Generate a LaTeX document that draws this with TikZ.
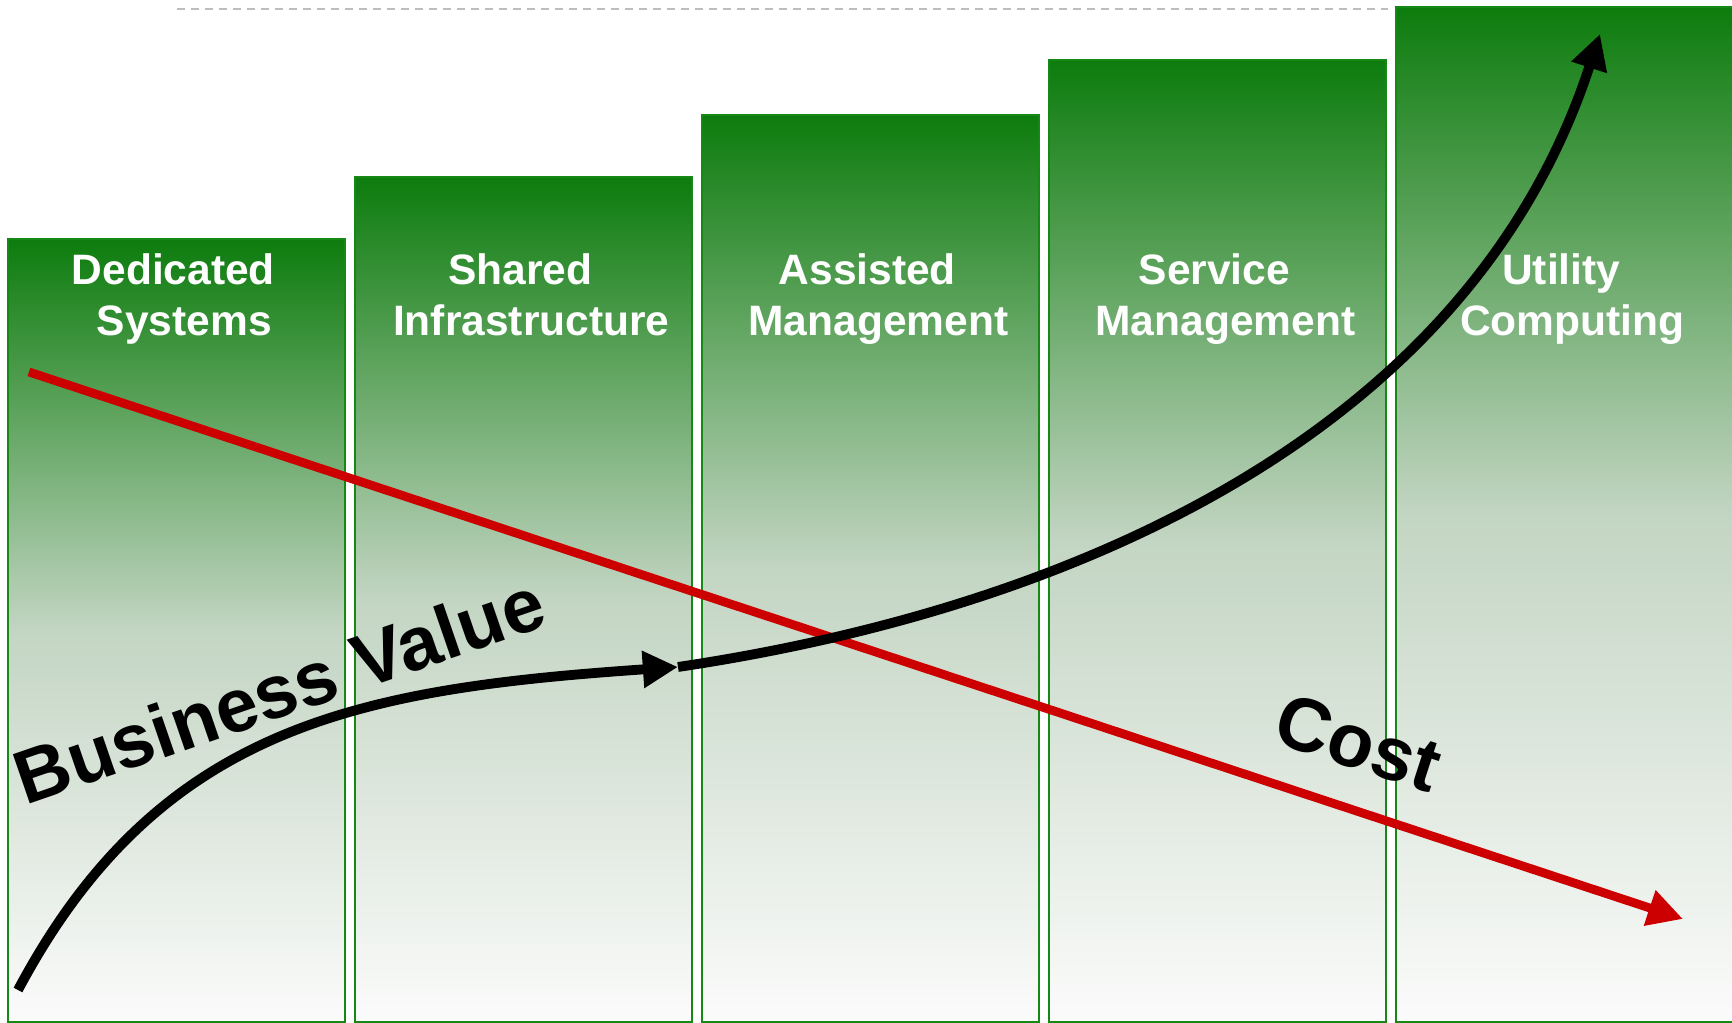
\documentclass[tikz,border=0pt]{standalone}
\usepackage{fontspec}
\setmainfont{Liberation Sans}
\usepackage{xcolor}
\usepackage{tikz}
\usetikzlibrary{arrows.meta,positioning}
\definecolor{bargreen}{RGB}{13,124,13}
\definecolor{barmid}{RGB}{195,213,195}
\definecolor{barlow}{RGB}{251,251,251}
\definecolor{barline}{RGB}{22,136,22}
\definecolor{costred}{RGB}{204,0,0}
\definecolor{guidegray}{RGB}{190,190,190}
% small nudge between the two caption rows
\newcommand{\capgap}{\hspace*{0.11cm}}

\begin{document}
\begin{tikzpicture}[node distance=0.1cm]
    \tikzstyle{bar} = [rectangle, draw=barline, line width=0.6pt, top color=bargreen, bottom color=barlow, middle color=barmid, minimum width=3.37cm, inner sep=0pt, outer sep=0pt]
    \tikzstyle{caption} = [text=white, font=\fontsize{12.1}{14.6}\selectfont\bfseries, align=center, anchor=base, xshift=0.02cm]
    \tikzstyle{bigword} = [font=\fontsize{21.5}{24}\selectfont\bfseries, inner sep=0pt, anchor=base west]
    \tikzstyle{valuearrow} = [line width=2.8pt, -{Triangle[length=10pt,width=10pt]}]
    \tikzstyle{costarrow} = [line width=2.5pt, costred, -{Triangle[length=10pt,width=10pt]}]

    \useasboundingbox (0,0) rectangle (17.32,10.23);

    % dashed guide along the top
    \coordinate (guidestart) at (1.77,10.14);
    \coordinate (guideend) at (13.88,10.14);
    \draw [guidegray, line width=0.6pt, dash pattern=on 0.08cm off 0.06cm] (guidestart) -- (guideend);

    % the five stages, growing to the right
    \node (dedicated) [bar, minimum height=7.83cm, anchor=south west] at (0.083,0.01) {};
    \node (shared) [bar, minimum height=8.45cm, right=of dedicated.south east, anchor=south west] {};
    \node (assisted) [bar, minimum height=9.07cm, right=of shared.south east, anchor=south west] {};
    \node (service) [bar, minimum height=9.62cm, right=of assisted.south east, anchor=south west] {};
    \node (utility) [bar, minimum height=10.15cm, right=of service.south east, anchor=south west] {};

    % base line of the second caption row
    \coordinate (capline) at (0,6.87);
    \node (dedicatedtxt) [caption] at (dedicated |- capline) {Dedicated\capgap\\\capgap Systems};
    \node (sharedtxt) [caption] at (shared |- capline) {Shared\capgap\\\capgap Infrastructure};
    \node (assistedtxt) [caption] at (assisted |- capline) {Assisted\capgap\\\capgap Management};
    \node (servicetxt) [caption] at (service |- capline) {Service\capgap\\\capgap Management};
    \node (utilitytxt) [caption] at (utility |- capline) {Utility\capgap\\\capgap Computing};

    % falling cost
    \coordinate (coststart) at (0.29,6.51);
    \coordinate (costend) at (16.83,1.04);
    \draw [costarrow] (coststart) -- (costend);

    % rising business value
    \coordinate (valuestart) at (0.18,0.33);
    \coordinate (valuemid) at (6.78,3.56);
    \coordinate (valueend) at (16.00,9.89);
    \draw [valuearrow] (valuestart) .. controls (1.59,2.98) and (3.59,3.34) .. (valuemid);
    \draw [valuearrow] (valuemid) .. controls (10.74,4.15) and (14.70,5.90) .. (valueend);

    \node (valuetxt) [bigword, rotate=19] at (0.25,2.17) {Business Value};
    \node (costtxt) [bigword, rotate=-18] at (12.70,2.82) {Cost};
\end{tikzpicture}
\end{document}
